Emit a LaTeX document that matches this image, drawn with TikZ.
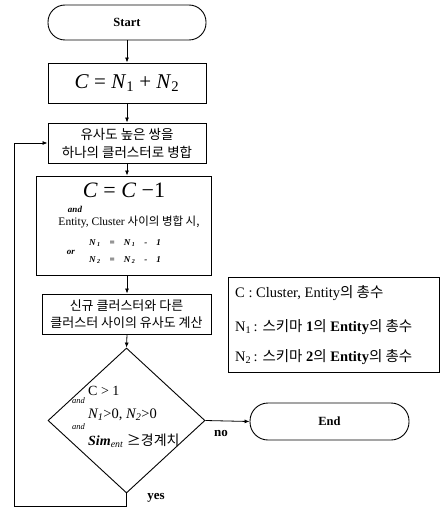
\documentclass[tikz,border=0pt]{standalone}
\usepackage{fontspec}
\setmainfont{Liberation Serif}
\newfontfamily\kr{Noto Sans CJK KR}
\usepackage{tikz}
\usetikzlibrary{arrows.meta,positioning,shapes.geometric}
\newcommand{\vi}[1]{\textit{#1}}

\begin{document}
\begin{tikzpicture}[x=1pt,y=-1pt,
  box/.style={draw,line width=0.9pt,inner sep=0pt},
  flow/.style={line width=0.8pt,-{Latex[length=5pt,width=4pt]}},
  tiny/.style={font=\fontsize{9}{10}\selectfont\bfseries\itshape,inner sep=0pt}]
  \useasboundingbox (0,0) rectangle (441,508);

  % Terminals
  \node[box,rounded corners=17pt,minimum width=158pt,minimum height=35pt,font=\fontsize{12.5}{14}\selectfont\bfseries] (start) at (127,22.5) {Start};
  \node[box,rounded corners=18pt,minimum width=159pt,minimum height=37pt,font=\fontsize{12.5}{14}\selectfont\bfseries] (stop) at (329.5,421.5) {End};

  % Initial count
  \node[box,minimum width=158pt,minimum height=40pt,font=\fontsize{21}{24}\selectfont] (init) at (127,83)
    {\vi{C} = \vi{N}\textsubscript{1} + \vi{N}\textsubscript{2}};

  % Merge the most similar pair
  \node[box,minimum width=158pt,minimum height=40pt,align=center,font=\kr\fontsize{13.5}{18}\selectfont] (merge) at (127,143)
    {유사도 높은 쌍을\\하나의 클러스터로 병합};

  % Update counters
  \node[box,minimum width=175pt,minimum height=99pt] (update) at (123.5,225.5) {};
  \node[font=\fontsize{22}{24}\selectfont,inner sep=0pt] (upd-eq) at (124,190) {\vi{C} = \vi{C} −1};
  \node[tiny] (upd-and) at (75,209) {and};
  \node[font=\fontsize{11.5}{13}\selectfont,inner sep=0pt] (upd-ent) at (129,222) {Entity, Cluster {\kr 사이의 병합 시,}};
  \node[tiny] (upd-or) at (71,252) {or};
  \node[tiny] (upd-n1) at (125,243) {N\,\textsubscript{1}\ \ \ \ =\ \ \ \ N\,\textsubscript{1}\ \ \ \ -\ \ \ \ 1};
  \node[tiny] (upd-n2) at (125,260) {N\,\textsubscript{2}\ \ \ \ =\ \ \ \ N\,\textsubscript{2}\ \ \ \ -\ \ \ \ 1};

  % Similarity update
  \node[box,minimum width=169pt,minimum height=40pt,align=center,font=\kr\fontsize{13}{17}\selectfont] (simcalc) at (126.5,314)
    {신규 클러스터와 다른\\클러스터 사이의 유사도 계산};

  % Loop condition
  \node[box,diamond,minimum width=157pt,minimum height=145pt] (check) at (126.5,420.5) {};
  \node[anchor=west,font=\fontsize{14}{16}\selectfont,inner sep=0pt] (chk-c) at (88,391) {C > 1};
  \node[anchor=west,inner sep=0pt,font=\fontsize{8.5}{9}\selectfont\itshape] (chk-and1) at (72,401) {and};
  \node[anchor=west,font=\fontsize{14.5}{16}\selectfont,inner sep=0pt] (chk-n) at (88,415) {\vi{N\textsubscript{1}}>0, \vi{N\textsubscript{2}}>0};
  \node[anchor=west,inner sep=0pt,font=\fontsize{8.5}{9}\selectfont\itshape] (chk-and2) at (72,427) {and};
  \node[anchor=west,font=\fontsize{14}{16}\selectfont,inner sep=0pt] (chk-sim) at (88,441) {\textbf{\vi{Sim}}\textsubscript{\vi{ent}} {\kr ≥경계치}};

  % Legend
  \node[box,minimum width=211pt,minimum height=95pt] (legend) at (334,324.5) {};
  \node[anchor=west,font=\fontsize{14.5}{16}\selectfont,inner sep=0pt] (leg-c) at (235,293) {C : Cluster, Entity{\kr 의 총수}};
  \node[anchor=west,font=\fontsize{14.5}{16}\selectfont,inner sep=0pt] (leg-n1) at (235,327) {N\textsubscript{1}\,: {\kr 스키마} \textbf{1}{\kr 의} \textbf{Entity}{\kr 의 총수}};
  \node[anchor=west,font=\fontsize{14.5}{16}\selectfont,inner sep=0pt] (leg-n2) at (235,357) {N\textsubscript{2}\,: {\kr 스키마} \textbf{2}{\kr 의} \textbf{Entity}{\kr 의 총수}};

  % Connectors
  \draw[flow] (start.south) -- (start.south |- init.north);
  \draw[flow] (init.south) -- (init.south |- merge.north);
  \draw[flow] (merge.south) -- (merge.south |- update.north);
  \draw[flow] (merge.south |- update.south) -- (merge.south |- simcalc.north);
  \draw[flow] (merge.south |- simcalc.south) -- (check.north);
  \draw[flow] (check.east) -- (stop.west);
  \node[font=\fontsize{13}{14}\selectfont\bfseries,inner sep=0pt] (lbl-no) at (221,433) {no};

  % Back to merge step
  \coordinate (loop) at (14,506);
  \draw[flow] (check.south) |- (loop) |- (merge.west);
  \node[font=\fontsize{13}{14}\selectfont\bfseries,inner sep=0pt] (lbl-yes) at (156,498) {yes};
\end{tikzpicture}
\end{document}
